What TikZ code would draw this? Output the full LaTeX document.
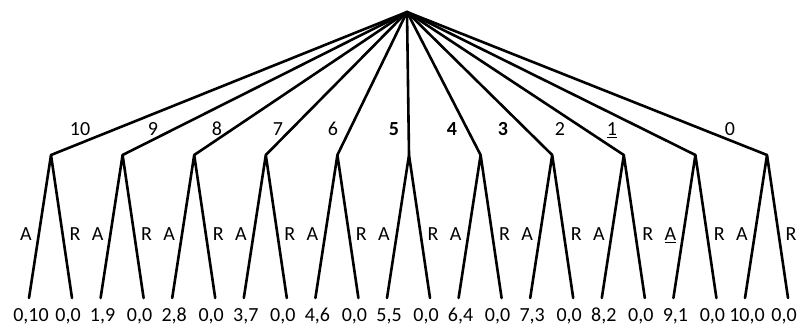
\documentclass[tikz,border=0pt]{standalone}
\usepackage{fontspec}
\setmainfont{Carlito}
\begin{document}
\begin{tikzpicture}[x=1pt,y=-1pt,
  edge/.style={line width=2.6pt, line cap=round, line join=round},
  lbl/.style={font=\fontsize{20}{20}\selectfont, inner sep=0pt, anchor=base}]
\useasboundingbox (0,0) rectangle (802,325);
\coordinate (root) at (407,12);
% offer labels left to right: 10 ... 0
\foreach \i/\lab/\ax/\pa/\pb/\ta in {
  0/{10}/80/{0,10}/{0,0}/{A},
  1/{9}/153/{1,9}/{0,0}/{A},
  2/{8}/217/{2,8}/{0,0}/{A},
  3/{7}/278/{3,7}/{0,0}/{A},
  4/{6}/333/{4,6}/{0,0}/{A},
  5/{\textbf{5}}/394/{5,5}/{0,0}/{A},
  6/{\textbf{4}}/452/{6,4}/{0,0}/{A},
  7/{\textbf{3}}/503/{7,3}/{0,0}/{A},
  8/{2}/560/{8,2}/{0,0}/{A},
  9/{\underline{1}}/612/{9,1}/{0,0}/{\underline{A}},
  10/{0}/730/{10,0}/{0,0}/{A}}{
  \pgfmathsetmacro{\mx}{51+71.6*\i}
  \coordinate (m\i) at (\mx,155);
  \coordinate (l\i) at (\mx-22,298);
  \coordinate (r\i) at (\mx+21,298);
  \draw[edge] (root) -- (m\i);
  \draw[edge] (l\i) -- (m\i) -- (r\i);
  \node[lbl] (e\i) at (\ax,135.5) {\lab};
  \node[lbl] (a\i) at (\mx-25,240.5) {\ta};
  \node[lbl] (b\i) at (\mx+24,240.5) {R};
  \node[lbl] (pl\i) at (\mx-20,321.5) {\pa};
  \node[lbl] (pr\i) at (\mx+17,321.5) {\pb};
}
\end{tikzpicture}
\end{document}
